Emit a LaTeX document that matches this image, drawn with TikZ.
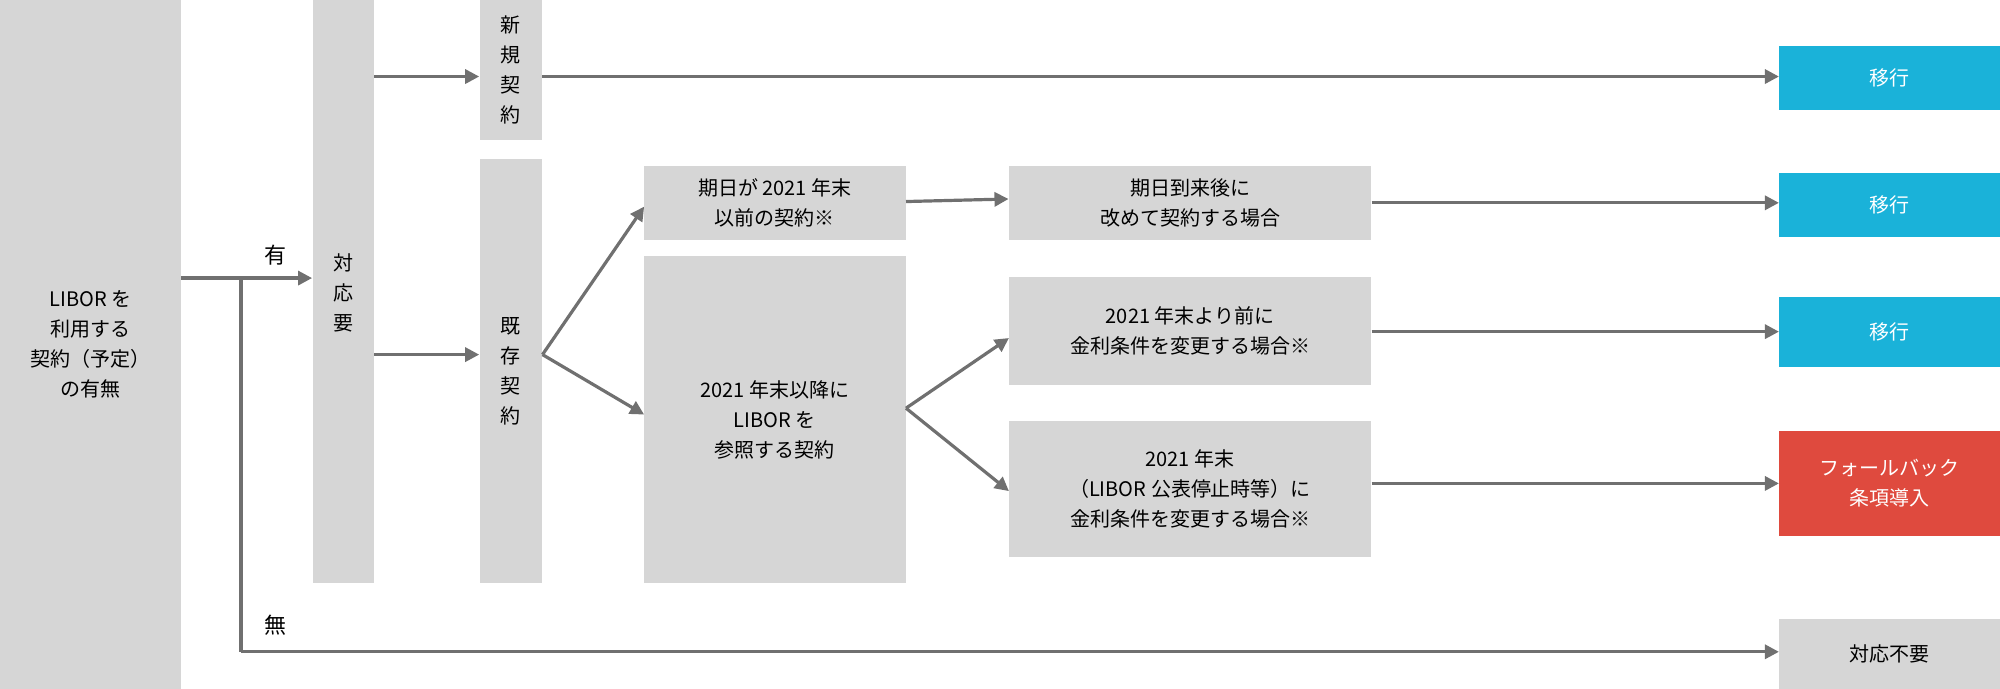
\documentclass[tikz,border=0pt]{standalone}
\usepackage{fontspec}
\setmainfont{Noto Sans CJK JP}
\usetikzlibrary{arrows.meta}
\definecolor{bxg}{HTML}{D6D6D6}
\definecolor{arr}{HTML}{707070}
\definecolor{cy}{HTML}{1AB2D9}
\definecolor{rd}{HTML}{DF4A3E}
\begin{document}
\begin{tikzpicture}[x=0.6378pt,y=-0.6378pt,
  bx/.style={fill=bxg,inner sep=0,align=center,font=\fontsize{10}{15}\selectfont},
  ar/.style={draw=arr,line width=1.6pt,-{Triangle[length=7pt,width=7pt]}},
  ln/.style={draw=arr,line width=1.6pt}]
\useasboundingbox (0,0) rectangle (1568,540);
\newcommand{\bb}[7]{\node[bx,#6,minimum width={(#4-#2)*0.6378pt},minimum height={(#5-#3)*0.6378pt}] (#1) at ({(#2+#4)/2},{(#3+#5)/2}) {#7};}
\bb{libor}{0}{0}{142}{540}{}{LIBOR を\\利用する\\契約（予定）\\の有無}
\bb{taio}{245}{0}{293}{457}{text depth=0}{}
\node[font=\fontsize{10}{15}\selectfont,align=center] (taiot) at (269,230) {対\\応\\要};
\bb{shin}{376}{0}{425}{110}{}{新\\規\\契\\約}
\bb{kizon}{376}{125}{425}{457}{}{既\\存\\契\\約}
\bb{kijitsu}{505}{130}{710}{188}{}{期日が 2021 年末\\以前の契約※}
\bb{ikou}{505}{201}{710}{457}{}{2021 年末以降に\\LIBOR を\\参照する契約}
\bb{torai}{791}{130}{1075}{188}{}{期日到来後に\\改めて契約する場合}
\bb{mae}{791}{217}{1075}{302}{}{2021 年末より前に\\金利条件を変更する場合※}
\bb{teishi}{791}{330}{1075}{437}{}{2021 年末\\（LIBOR 公表停止時等）に\\金利条件を変更する場合※}
\bb{m1}{1395}{36}{1568}{86}{fill=cy,text=white}{移行}
\bb{m2}{1395}{136}{1568}{186}{fill=cy,text=white}{移行}
\bb{m3}{1395}{233}{1568}{288}{fill=cy,text=white}{移行}
\bb{fb}{1395}{338}{1568}{420}{fill=rd,text=white}{フォールバック\\条項導入}
\bb{fy}{1395}{485}{1568}{540}{}{対応不要}
\coordinate (br) at (189,218);
\draw[ar] (142,218) -- (taio.west |- br);
\node[font=\fontsize{11}{13}\selectfont] (yu) at (216,200) {有};
\draw[ln] (br) -- (189,511);
\draw[ar] (189,511) -- (fy.west |- 0,511);
\node[font=\fontsize{11}{13}\selectfont] (mu) at (216,490) {無};
\draw[ar] (taio.east |- 0,60) -- (shin.west |- 0,60);
\draw[ar] (taio.east |- 0,278) -- (kizon.west |- 0,278);
\draw[ar] (shin.east |- 0,60) -- (m1.west |- 0,60);
\draw[ar] (kizon.east |- 0,278) -- (505,162);
\draw[ar] (kizon.east |- 0,278) -- (505,325);
\draw[ar] (kijitsu.east |- 0,158) -- (torai.west |- 0,156);
\draw[ar] (ikou.east |- 0,320) -- (791,265);
\draw[ar] (ikou.east |- 0,320) -- (791,385);
\draw[ar] (torai.east |- 0,159) -- (m2.west |- 0,159);
\draw[ar] (mae.east |- 0,260) -- (m3.west |- 0,260);
\draw[ar] (teishi.east |- 0,379) -- (fb.west |- 0,379);
\end{tikzpicture}
\end{document}
